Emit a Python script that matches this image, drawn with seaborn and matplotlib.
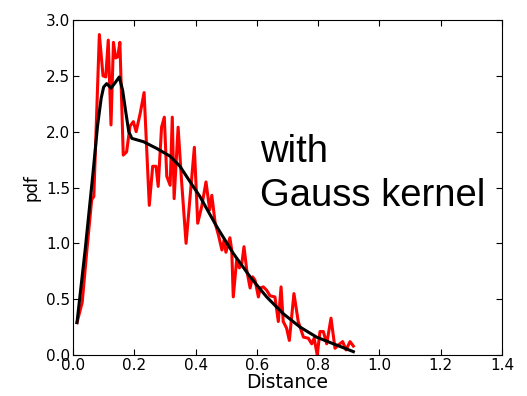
import matplotlib
matplotlib.use("Agg")
import matplotlib.pyplot as plt
import seaborn as sns
import pandas as pd

# Red noisy pdf (histogram-like estimate)
red_x = [0.013, 0.030, 0.045, 0.061, 0.068, 0.086, 0.098, 0.107, 0.115, 0.124,
         0.132, 0.139, 0.146, 0.153, 0.164, 0.175, 0.186, 0.197, 0.206, 0.219,
         0.232, 0.249, 0.260, 0.271, 0.278, 0.289, 0.298, 0.306, 0.317, 0.324,
         0.330, 0.343, 0.354, 0.369, 0.396, 0.407, 0.420, 0.434, 0.446, 0.453,
         0.464, 0.475, 0.486, 0.493, 0.499, 0.512, 0.518, 0.523, 0.534, 0.543,
         0.551, 0.558, 0.567, 0.578, 0.586, 0.594, 0.605, 0.611, 0.621, 0.632,
         0.643, 0.659, 0.670, 0.679, 0.686, 0.697, 0.706, 0.721, 0.735, 0.752,
         0.768, 0.779, 0.787, 0.797, 0.806, 0.817, 0.828, 0.842, 0.855, 0.866,
         0.880, 0.891, 0.904, 0.915]
red_y = [0.29, 0.47, 0.93, 1.39, 1.42, 2.87, 2.50, 2.49, 2.82, 2.06,
         2.80, 2.66, 2.67, 2.80, 1.79, 1.82, 2.05, 2.09, 2.00, 2.16,
         2.35, 1.34, 1.69, 1.69, 1.51, 2.04, 2.13, 1.60, 1.52, 2.13,
         1.40, 2.04, 1.57, 1.00, 1.86, 1.18, 1.33, 1.55, 1.30, 1.43,
         1.18, 1.07, 0.94, 1.03, 0.92, 1.05, 0.94, 0.52, 0.85, 0.78,
         0.82, 0.97, 0.76, 0.60, 0.70, 0.67, 0.52, 0.60, 0.61, 0.58,
         0.53, 0.52, 0.30, 0.61, 0.30, 0.24, 0.13, 0.55, 0.30, 0.16,
         0.15, 0.10, 0.15, 0.00, 0.21, 0.21, 0.10, 0.33, 0.06, 0.09,
         0.12, 0.045, 0.12, 0.08]

# Black smooth Gauss-kernel estimate
kde_x = [0.013, 0.040, 0.066, 0.080, 0.092, 0.100, 0.110, 0.124, 0.138, 0.151,
         0.162, 0.172, 0.182, 0.192, 0.230, 0.273, 0.317, 0.349, 0.380, 0.414,
         0.469, 0.523, 0.578, 0.632, 0.686, 0.741, 0.795, 0.850, 0.915]
kde_y = [0.29, 0.95, 1.65, 2.05, 2.30, 2.40, 2.43, 2.39, 2.44, 2.49,
         2.37, 2.18, 2.00, 1.94, 1.91, 1.85, 1.78, 1.69, 1.56, 1.42,
         1.15, 0.91, 0.70, 0.52, 0.37, 0.25, 0.16, 0.10, 0.03]

x_ticks = [0.0, 0.2, 0.4, 0.6, 0.8, 1.0, 1.2, 1.4]
y_ticks = [0.0, 0.5, 1.0, 1.5, 2.0, 2.5, 3.0]

fig = plt.figure(figsize=(5.27, 3.96), dpi=100)
ax = fig.add_axes([73/527, 1-355/396, (502-73)/527, (355-20)/396])

red_df = pd.DataFrame({"x": red_x, "y": red_y})
kde_df = pd.DataFrame({"x": kde_x, "y": kde_y})
sns.lineplot(data=red_df, x="x", y="y", ax=ax, color="red", lw=2.2,
             estimator=None, sort=False)
sns.lineplot(data=kde_df, x="x", y="y", ax=ax, color="black", lw=2.2,
             estimator=None, sort=False)

ax.set_xlim(0, 1.4)
ax.set_ylim(0, 3.0)
ax.set_xticks(x_ticks)
ax.set_yticks(y_ticks)
ax.set_xticklabels([f"{v:.1f}" for v in x_ticks])
ax.set_yticklabels([f"{v:.1f}" for v in y_ticks])
ax.tick_params(direction="in", length=4, width=0.8, top=True, right=True,
               labelsize=11, pad=2, color="black")
for s in ax.spines.values():
    s.set_color("black")
    s.set_linewidth(0.8)

ax.set_xlabel("Distance", fontsize=13.5, labelpad=0)
ax.set_ylabel("pdf", fontsize=12, labelpad=4)

ax.text(0.61, 1.33, "with\nGauss kernel", fontsize=27.5,
        family="Liberation Sans", va="baseline", ha="left",
        linespacing=1.3)

fig.savefig("out.png", dpi=100)
